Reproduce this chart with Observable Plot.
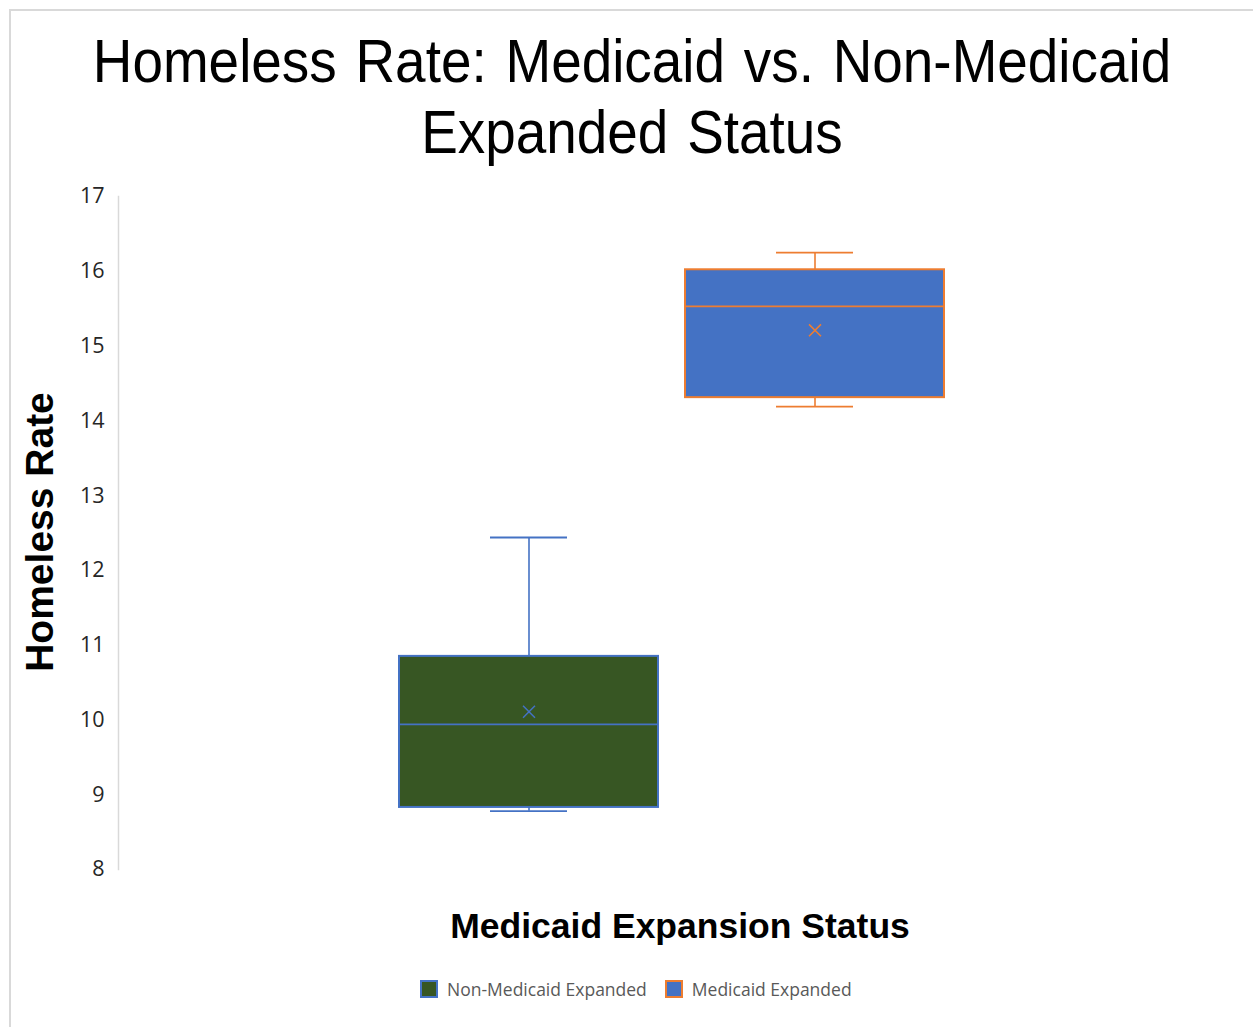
<!DOCTYPE html>
<html>
<head>
<meta charset="utf-8">
<script src="https://cdn.jsdelivr.net/npm/d3@7"></script>
<script src="https://cdn.jsdelivr.net/npm/@observablehq/plot@0.6"></script>
<style>
  html, body { margin: 0; padding: 0; background: #fff; }
  #page { position: relative; width: 1253px; height: 1027px; overflow: hidden; background: #fff; }
  #frame { position: absolute; left: 9px; top: 9px; width: 1300px; height: 1100px;
           border-top: 2px solid #d9d9d9; border-left: 2px solid #d9d9d9; }
  #title { position: absolute; left: 0; top: 25px; width: 1253px; padding-left: 11px; box-sizing: border-box;
           text-align: center; font-family: "Liberation Sans", Arial, sans-serif; font-size: 62px;
           line-height: 71px; color: #000; transform: scaleX(0.885); transform-origin: 632px 0; word-spacing: 4px; }
  #chart { position: absolute; left: 0; top: 170px; }
  #legend { position: absolute; left: 420px; top: 977px; display: flex; align-items: center;
            font-family: "Open Sans", sans-serif; font-size: 17.5px; color: #595959; }
  .sw { width: 14px; height: 14px; border: 2px solid; margin-right: 9px; }
  .item { display: flex; align-items: center; margin-right: 18px; }
</style>
</head>
<body>
<div id="page">
  <div id="frame"></div>
  <div id="title">Homeless Rate: Medicaid vs. Non-Medicaid<br>Expanded Status</div>
  <div id="chart"></div>
  <div id="legend"></div>
</div>
<script>
const series = ["Non-Medicaid Expanded", "Medicaid Expanded"];
const minVals = [8.78, 14.19];
const q1Vals = [8.83, 14.31];
const medianVals = [9.94, 15.53];
const q3Vals = [10.85, 16.02];
const maxVals = [12.44, 16.25];
const meanVals = [10.11, 15.21];
const yTicks = [8, 9, 10, 11, 12, 13, 14, 15, 16, 17];
const yLabel = "Homeless Rate";
const xLabel = "Medicaid Expansion Status";

const fills = ["#375623", "#4472C4"];
const strokes = ["#4472C4", "#ED7D31"];

const rows = series.map((s, i) => ({
  series: s, min: minVals[i], q1: q1Vals[i], median: medianVals[i],
  q3: q3Vals[i], max: maxVals[i], mean: meanVals[i]
}));

const boxMarks = rows.flatMap((r, i) => [
  Plot.ruleX([r], {x: "series", y1: "q3", y2: "max", stroke: strokes[i], strokeWidth: 1.6}),
  Plot.ruleX([r], {x: "series", y1: "min", y2: "q1", stroke: strokes[i], strokeWidth: 1.6}),
  Plot.tickY([r], {x: "series", y: "max", stroke: strokes[i], strokeWidth: 1.8, insetLeft: 91, insetRight: 91}),
  Plot.tickY([r], {x: "series", y: "min", stroke: strokes[i], strokeWidth: 1.8, insetLeft: 91, insetRight: 91}),
  Plot.barY([r], {x: "series", y1: "q1", y2: "q3", fill: fills[i], stroke: strokes[i], strokeWidth: 2}),
  Plot.tickY([r], {x: "series", y: "median", stroke: strokes[i], strokeWidth: 1.8}),
  Plot.dot([r], {x: "series", y: "mean", symbol: "times", r: 5.5, stroke: strokes[i], strokeWidth: 1.5})
]);

const chart = Plot.plot({
  width: 1253,
  height: 810,
  marginTop: 26,
  marginBottom: 111,
  marginLeft: 118,
  marginRight: 28,
  style: {fontFamily: "'Open Sans', sans-serif", fontSize: "21.5px", color: "#262626", background: "transparent"},
  x: {domain: series, paddingInner: 0.094, paddingOuter: 0.976, axis: null},
  y: {domain: [8, 17], ticks: yTicks, tickSize: 0, tickPadding: 14, label: null},
  marks: [
    Plot.frame({anchor: "left", stroke: "#d9d9d9", strokeWidth: 1.5}),
    ...boxMarks,
    Plot.text([yLabel], {frameAnchor: "left", textAnchor: "middle", text: d => d, rotate: -90, dx: -78, dy: -1,
      fontSize: 39, fontWeight: "bold", fontFamily: "'Liberation Sans', Arial, sans-serif", fill: "#000"}),
    Plot.text([xLabel], {frameAnchor: "bottom", text: d => d, dx: 8, dy: 68,
      fontSize: 35.5, fontWeight: "bold", fontFamily: "'Liberation Sans', Arial, sans-serif", fill: "#000"})
  ]
});
document.getElementById("chart").appendChild(chart);

const legend = document.getElementById("legend");
series.forEach((s, i) => {
  const item = document.createElement("div");
  item.className = "item";
  const sw = document.createElement("div");
  sw.className = "sw";
  sw.style.background = fills[i];
  sw.style.borderColor = strokes[i];
  const t = document.createElement("span");
  t.textContent = s;
  item.appendChild(sw);
  item.appendChild(t);
  legend.appendChild(item);
});
</script>
</body>
</html>
